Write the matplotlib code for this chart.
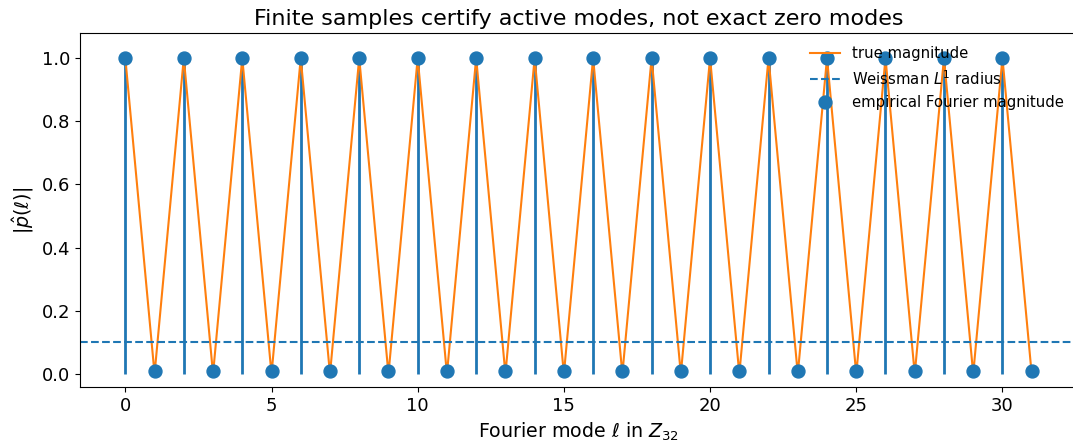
import numpy as np
import matplotlib
matplotlib.use("Agg")
import matplotlib.pyplot as plt

# modes of Z_32
modes = list(range(32))
# true magnitude: 1 on even modes, 0 on odd modes
true_mag = [1.0 if m % 2 == 0 else 0.0 for m in modes]
# empirical Fourier magnitude
emp_mag = [1.0 if m % 2 == 0 else 0.01 for m in modes]
radius = 0.102

fig = plt.figure(figsize=(10.73, 4.47), dpi=100)
ax = fig.add_axes([80 / 1073, 60 / 447, 997 / 1073, 354 / 447])

ax.vlines(modes, 0, emp_mag, color='C0', linewidth=2)
ax.plot(modes, true_mag, color='C1', linewidth=1.5, label='true magnitude')
ax.axhline(radius, color='C0', linestyle='--', linewidth=1.5, label='Weissman $L^1$ radius')
ax.plot(modes, emp_mag, 'o', color='C0', markersize=9.3, linestyle='none',
        label='empirical Fourier magnitude')

ax.set_xlim(-1.55, 32.55)
ax.set_ylim(-0.041, 1.079)
ax.spines['right'].set_visible(False)
ax.tick_params(axis='both', labelsize=13)
ax.set_xlabel(r'Fourier mode $\ell$ in $Z_{32}$', fontsize=13.7)
ax.set_ylabel(r'$|\hat{p}(\ell)|$', fontsize=13.7)
ax.set_title('Finite samples certify active modes, not exact zero modes', fontsize=16)
ax.legend(loc='upper right', frameon=False, fontsize=10.7)

fig.savefig('out.png', dpi=100)
